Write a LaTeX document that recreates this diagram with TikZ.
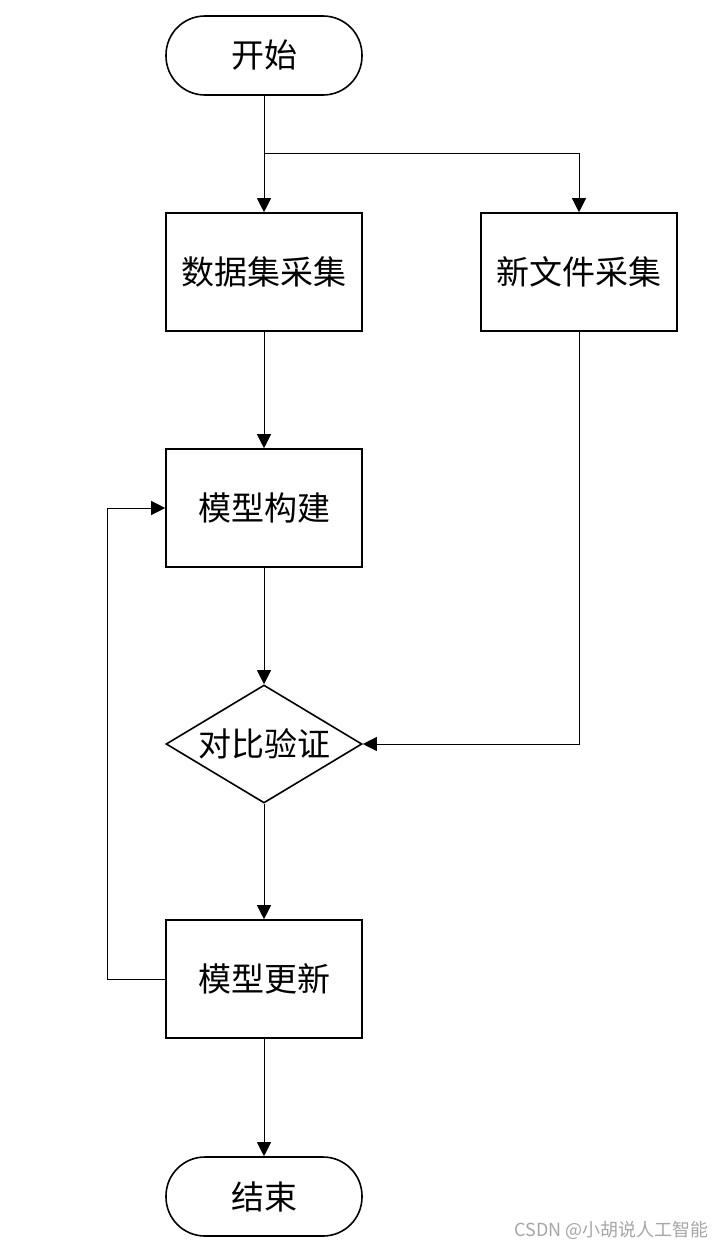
\documentclass[tikz,border=0pt]{standalone}
\usepackage{fontspec}
\setmainfont{Noto Sans CJK SC}
\usetikzlibrary{arrows.meta,shapes.geometric}
\begin{document}
\begin{tikzpicture}[x=1pt,y=-1pt,
  box/.style={draw=black,line width=1.6pt,minimum width=196pt,minimum height=118pt,inner sep=0pt,font=\fontsize{33}{38}\selectfont},
  term/.style={box,minimum height=79pt,rounded corners=39pt},
  decide/.style={draw=black,line width=1.6pt,diamond,aspect=1.66,minimum width=196pt,minimum height=118pt,inner sep=0pt,font=\fontsize{33}{38}\selectfont},
  conn/.style={draw=black,line width=1pt,-{Triangle[width=14pt,length=14pt]}},
  wline/.style={draw=black,line width=1pt}]
\useasboundingbox[fill=white] (0,0) rectangle (726,1250);
\node[term] (start) at (264,55.5) {开始};
\node[box] (ds) at (264,272) {数据集采集};
\node[box] (nf) at (579,272) {新文件采集};
\node[box] (mb) at (264,508) {模型构建};
\node[decide] (dv) at (264,744) {对比验证};
\node[box] (mu) at (264,979) {模型更新};
\node[term] (end) at (264,1196.5) {结束};
\node[text=gray!70,font=\fontsize{18}{21}\selectfont,anchor=east] (wm) at (712,1230) {CSDN @小胡说人工智能};
\coordinate (br) at (264,153);
\coordinate (lp) at (107,979);
\draw[conn] (start) -- (ds);
\draw[conn] (br) -| (nf.north);
\draw[conn] (ds) -- (mb);
\draw[conn] (mb) -- (dv);
\draw[conn] (nf.south) |- (dv.east);
\draw[conn] (dv) -- (mu);
\draw[conn] (mu.west) -- (lp) |- (mb.west);
\draw[conn] (mu) -- (end);
\end{tikzpicture}
\end{document}
